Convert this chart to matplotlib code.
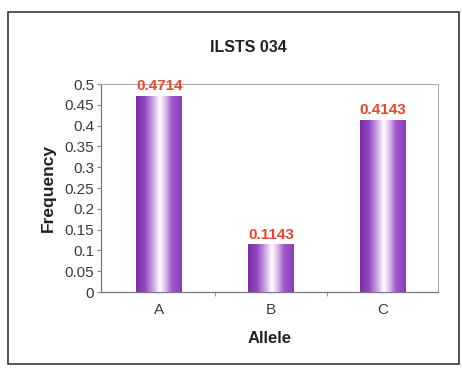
import numpy as np
import matplotlib
matplotlib.use("Agg")
import matplotlib.pyplot as plt
from matplotlib.colors import LinearSegmentedColormap
from matplotlib.patches import Rectangle

alleles = ["A", "B", "C"]
freqs = [0.4714, 0.1143, 0.4143]
freq_labels = ["0.4714", "0.1143", "0.4143"]

plt.rcParams['font.family'] = ['Liberation Sans', 'DejaVu Sans']

fig = plt.figure(figsize=(4.62, 3.69), dpi=100)
fig.patch.set_facecolor("white")

# outer chart border
fig.patches.append(Rectangle((8/462, 1-364/369), 451/462, 352/369,
                             transform=fig.transFigure, fill=False,
                             edgecolor="#333333", linewidth=1.2))

ax = fig.add_axes([101/462, 1-292/369, 337/462, 208/369])

x = np.arange(len(alleles))
bars = ax.bar(x, freqs, width=0.41, facecolor="none", edgecolor="none", zorder=3)

# purple cylinder-like shading across each bar
cmap = LinearSegmentedColormap.from_list("purp", [
    (0.0, "#7a2ea6"), (0.2, "#9448c0"), (0.4, "#d8b4ea"),
    (0.52, "#ffffff"), (0.62, "#e2c8f0"), (0.78, "#a45ccc"),
    (1.0, "#8a3cb6")])
grad = np.linspace(0, 1, 256).reshape(1, -1)
for b in bars:
    x0, y0 = b.get_x(), b.get_y()
    w, h = b.get_width(), b.get_height()
    im = ax.imshow(grad, cmap=cmap, aspect="auto", extent=(x0, x0 + w, y0, y0 + h),
                   zorder=3)
    im.set_clip_path(b)

for xi, v, lab in zip(x, freqs, freq_labels):
    ax.text(xi, v + 0.006, lab, ha="center", va="bottom", color="#e8452c",
            fontsize=11, fontweight="bold", zorder=4)

ax.set_xlim(-0.52, 2.49)
ax.set_ylim(0, 0.5)
ax.set_yticks(np.arange(0, 0.501, 0.05))
ax.set_yticklabels(["0", "0.05", "0.1", "0.15", "0.2", "0.25", "0.3", "0.35",
                    "0.4", "0.45", "0.5"])
ax.set_xticks(x)
ax.set_xticklabels(alleles)
ax.set_xticks([0.5, 1.5], minor=True)
ax.tick_params(axis="x", which="major", length=0, pad=8, labelsize=11, colors="#3a3a3a")
ax.tick_params(axis="x", which="minor", length=3, color="#888888")
ax.tick_params(axis="y", length=3, color="#888888", labelsize=11, colors="#3a3a3a",
               pad=2)

for s in ["top", "right"]:
    ax.spines[s].set_color("#aaaaaa")
    ax.spines[s].set_linewidth(0.8)
for s in ["left", "bottom"]:
    ax.spines[s].set_color("#777777")
    ax.spines[s].set_linewidth(0.9)

ax.set_xlabel("Allele", fontsize=12, fontweight="bold", labelpad=10, color="#222222")
ax.set_ylabel("Frequency", fontsize=12.5, fontweight="bold", labelpad=6, color="#222222")
fig.text(248/462, 1-47/369, "ILSTS 034", ha="center", va="center",
         fontsize=11.5, fontweight="bold", color="#222222")

fig.savefig("out.png", dpi=100)
